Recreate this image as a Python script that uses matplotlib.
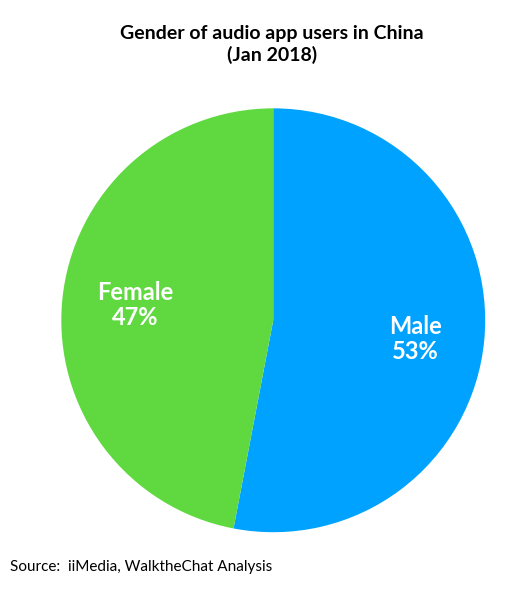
import matplotlib
matplotlib.use("Agg")
import matplotlib.pyplot as plt

categories = ["Male", "Female"]
values = [53, 47]
colors = ["#00A2FF", "#5FD93F"]

plt.rcParams['font.family'] = ['Lato', 'DejaVu Sans']
fig = plt.figure(figsize=(5.18, 5.92), dpi=100)
ax = fig.add_axes([0.118, 0.101, 0.819, 0.716])
ax.pie(values, colors=colors, startangle=90, counterclock=False,
       wedgeprops=dict(linewidth=0))
ax.set_aspect('equal')
ax.set_xlim(-1, 1); ax.set_ylim(-1, 1)
# label positions in axes coordinates
ax.text(0.67, -0.09, f"{categories[0]}\n{values[0]}%", color="white", fontsize=17,
        fontweight="bold", ha="center", va="center", linespacing=1.1)
ax.text(-0.65, 0.07, f"{categories[1]}\n{values[1]}%", color="white", fontsize=17,
        fontweight="bold", ha="center", va="center", linespacing=1.1)
fig.text(0.525, 0.925, "Gender of audio app users in China\n(Jan 2018)", ha="center",
         va="center", fontsize=14, fontweight="bold", linespacing=1.3)
fig.text(0.02, 0.042, "Source:  iiMedia, WalktheChat Analysis", fontsize=11, ha="left", va="center")
fig.savefig("out.png", dpi=100)
